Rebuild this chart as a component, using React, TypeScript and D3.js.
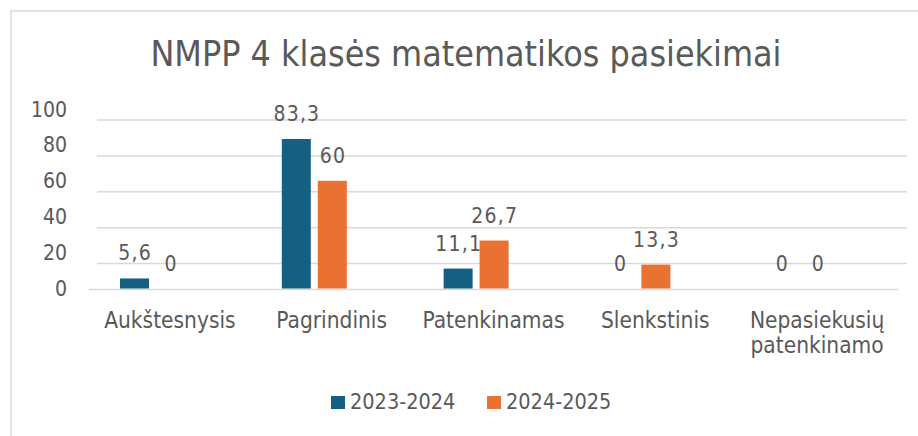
import React from "react";
import * as d3 from "d3";

const categories = ["Aukštesnysis", "Pagrindinis", "Patenkinamas", "Slenkstinis", "Nepasiekusių patenkinamo"];
const categoryLines = [["Aukštesnysis"], ["Pagrindinis"], ["Patenkinamas"], ["Slenkstinis"], ["Nepasiekusių", "patenkinamo"]];
const series = ["2023-2024", "2024-2025"];
const values2023 = [5.6, 83.3, 11.1, 0, 0];
const values2024 = [0, 60, 26.7, 13.3, 0];
const yTicks = [0, 20, 40, 60, 80, 100];
const colors = ["#156082", "#E97132"];
const title = "NMPP 4 klasės matematikos pasiekimai";

const W = 918;
const H = 436;
const FONT = "'DejaVu Sans Condensed', 'DejaVu Sans', sans-serif";
const TEXT = "#595959";
const GRID = "#d9d9d9";

export default function App() {
  const x = d3.scaleBand<string>().domain(categories).range([89, 898]);
  const barShift = -17.4;
  const inner = d3.scaleBand<string>().domain(series).range([-32.5, 32.5]).paddingInner(0.194);
  const y = d3.scaleLinear().domain([0, 100]).range([288.5, 109]);
  const gridShift = 11;
  const fmt = (v: number) => String(v).replace(".", ",");
  const data = [values2023, values2024];
  const ls = 1.2;

  return (
    <svg width={W} height={H} style={{ position: "absolute", left: 0, top: 0, background: "#fff" }}>
      <rect x={11} y={11} width={W} height={H} fill="#fff" stroke={GRID} strokeWidth={1.5} />
      <text x={466} y={66} textAnchor="middle" fontFamily={FONT} fontSize={35.5} fill={TEXT}>{title}</text>
      {yTicks.filter((t) => t > 0).map((t) => (
        <line key={"g" + t} x1={97} x2={907} y1={y(t) + gridShift} y2={y(t) + gridShift} stroke={GRID} strokeWidth={1.5} />
      ))}
      <line x1={89} x2={898} y1={y(0) + 1} y2={y(0) + 1} stroke={GRID} strokeWidth={1.5} />
      {yTicks.map((t) => (
        <text key={"t" + t} x={67} y={y(t)} dy="0.36em" textAnchor="end" fontFamily={FONT} fontSize={21} fill={TEXT}>{t}</text>
      ))}
      {series.map((s, si) =>
        categories.map((c, ci) => {
          const v = data[si][ci];
          const bx = (x(c) as number) + x.bandwidth() / 2 + barShift + (inner(s) as number);
          return (
            <g key={s + c}>
              <rect x={bx} y={y(v)} width={inner.bandwidth()} height={y(0) - y(v)} fill={colors[si]} />
              <text x={bx + inner.bandwidth() / 2 + ls / 2} y={y(v) - 18} textAnchor="middle" fontFamily={FONT} fontSize={21} letterSpacing={ls} fill={TEXT}>{fmt(v)}</text>
            </g>
          );
        })
      )}
      {categories.map((c, ci) => (
        <text key={"x" + c} x={(x(c) as number) + x.bandwidth() / 2} y={328} textAnchor="middle" fontFamily={FONT} fontSize={22.5} fill={TEXT}>
          {categoryLines[ci].map((ln, li) => (
            <tspan key={li} x={(x(c) as number) + x.bandwidth() / 2} dy={li === 0 ? 0 : 25}>{ln}</tspan>
          ))}
        </text>
      ))}
      {series.map((s, si) => {
        const lx = [331, 487][si];
        return (
          <g key={"l" + s}>
            <rect x={lx} y={396} width={14} height={13} fill={colors[si]} />
            <text x={lx + 19} y={409} fontFamily={FONT} fontSize={21.5} fill={TEXT}>{s}</text>
          </g>
        );
      })}
    </svg>
  );
}
